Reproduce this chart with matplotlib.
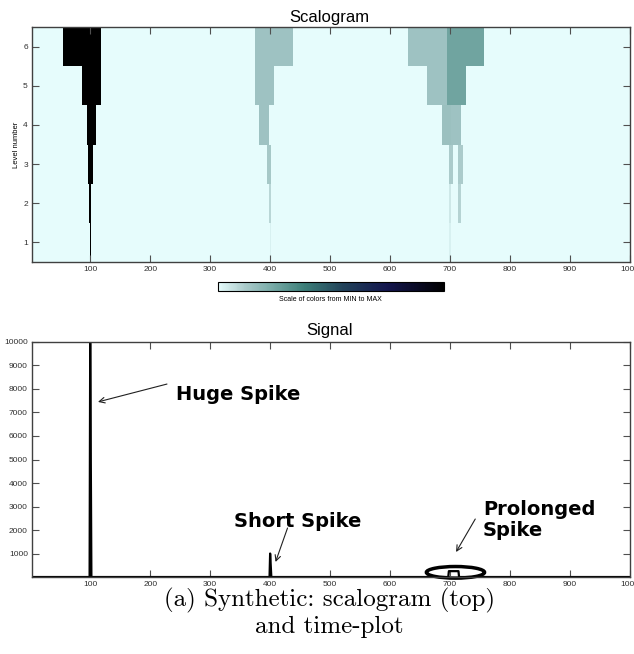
import numpy as np
import matplotlib
matplotlib.use('Agg')
import matplotlib.pyplot as plt
from matplotlib.colors import LinearSegmentedColormap, Normalize
from matplotlib.cm import ScalarMappable
from matplotlib.patches import Ellipse

# scalogram blocks: level, start sample, end sample, normalised energy
block_level = [6, 5, 4, 3, 2, 1,
               6, 5, 4, 3, 2, 1,
               6, 6, 5, 5, 4, 4, 3, 3, 2, 2, 1]
block_start = [54, 86, 94, 97, 98, 99,
               374, 374, 382, 394, 398, 400,
               630, 695, 662, 695, 686, 702, 698, 714, 698, 714, 699]
block_end = [118, 118, 110, 105, 102, 101,
             438, 406, 398, 402, 402, 402,
             695, 757, 695, 727, 702, 718, 705, 722, 702, 718, 702]
block_value = [1.0, 1.0, 1.0, 1.0, 1.0, 1.0,
               0.15, 0.15, 0.15, 0.13, 0.09, 0.03,
               0.15, 0.26, 0.15, 0.26, 0.16, 0.15, 0.12, 0.12, 0.05, 0.10, 0.03]
level_ticks = [1, 2, 3, 4, 5, 6]

# time signal: (start, end, amplitude) pieces over a zero baseline
n_samples = 1000
signal_pieces = [(100, 101, 10000), (101, 102, 5000),
                 (400, 401, 1000), (401, 402, 500),
                 (698, 715, 250)]
time_ticks = [100, 200, 300, 400, 500, 600, 700, 800, 900, 1000]
signal_ticks = [1000, 2000, 3000, 4000, 5000, 6000, 7000, 8000, 9000, 10000]

cmap = LinearSegmentedColormap.from_list('scal', [
    (0.0, '#e6fcfc'), (0.12, '#aacaca'), (0.22, '#80b0ad'),
    (0.38, '#3d7f79'), (0.55, '#22435a'), (0.75, '#14164e'), (1.0, '#000000')])
norm = Normalize(0, 1)


def style_axes(ax):
    ax.tick_params(direction='in', top=True, right=True, length=5, width=0.8,
                   colors='#505050', labelcolor='#303030', pad=3)
    for lab in ax.get_xticklabels() + ax.get_yticklabels():
        lab.set_fontfamily('Liberation Sans')
        lab.set_fontsize(6)
    for sp in ax.spines.values():
        sp.set_color('#404040')
        sp.set_linewidth(1.0)


fig = plt.figure(figsize=(6.34, 6.54), dpi=100)

# scalogram
ax1 = fig.add_axes([0.0505, 0.5994, 0.9432, 0.3593])
ax1.set_facecolor(cmap(0.0))
widths = np.array(block_end) - np.array(block_start)
ax1.bar(block_start, 1.0, width=widths, bottom=np.array(block_level) - 0.5,
        align='edge', color=cmap(norm(block_value)), linewidth=0)
ax1.set_xlim(3, 1000)
ax1.set_ylim(0.5, 6.5)
ax1.set_xticks(time_ticks)
ax1.set_xticklabels([str(t) for t in time_ticks])
ax1.set_yticks(level_ticks)
ax1.set_ylabel('Level number', fontsize=5.5, family='Liberation Sans', labelpad=2)
style_axes(ax1)
fig.text(0.52, 0.974, 'Scalogram', ha='center', va='center',
         fontsize=12, family='Liberation Sans')

cax = fig.add_axes([0.3438, 0.555, 0.3565, 0.0138])
cb = fig.colorbar(ScalarMappable(norm=norm, cmap=cmap), cax=cax, orientation='horizontal')
cb.set_ticks([])
cb.outline.set_linewidth(0.8)
fig.text(0.521, 0.5413, 'Scale of colors from MIN to MAX', ha='center', va='center',
         fontsize=5, family='Liberation Sans')

# signal
signal = np.zeros(n_samples)
for a, b, v in signal_pieces:
    signal[a - 1:b - 1] = v
t = np.arange(1, n_samples + 1)

ax2 = fig.add_axes([0.0505, 0.1177, 0.9432, 0.3594])
ax2.plot(t, signal, color='black', lw=1.6)
ax2.set_xlim(3, 1000)
ax2.set_ylim(0, 10000)
ax2.set_xticks(time_ticks)
ax2.set_xticklabels([str(x) for x in time_ticks])
ax2.set_yticks(signal_ticks)
ax2.set_yticklabels([str(y) for y in signal_ticks])
style_axes(ax2)
fig.text(0.52, 0.495, 'Signal', ha='center', va='center',
         fontsize=12, family='Liberation Sans')

ann_font = dict(fontsize=14, fontweight='bold', family='DejaVu Sans')
arrow = dict(arrowstyle='->', color='#202020', lw=0.8, shrinkA=0, shrinkB=0)
ax2.annotate('', xy=(113, 7450), xytext=(228, 8210), arrowprops=arrow)
ax2.text(243, 7745, 'Huge Spike', ha='left', va='center', **ann_font)
ax2.annotate('', xy=(409, 640), xytext=(429, 2085), arrowprops=arrow)
ax2.text(339, 2383, 'Short Spike', ha='left', va='center', **ann_font)
ax2.annotate('', xy=(710, 1064), xytext=(742, 2468), arrowprops=arrow)
ax2.text(755, 2425, 'Prolonged\nSpike', ha='left', va='center',
         linespacing=1.1, **ann_font)
ax2.add_patch(Ellipse((709, 200), 97, 494, fill=False, edgecolor='black',
                      lw=2.5, clip_on=False))

# caption
fig.text(0.52, 0.0826, '(a) Synthetic: scalogram (top)', ha='center', va='center',
         fontsize=18, family='cmr10')
fig.text(0.52, 0.0413, 'and time-plot', ha='center', va='center',
         fontsize=18, family='cmr10')

fig.savefig('out.png', dpi=100)
